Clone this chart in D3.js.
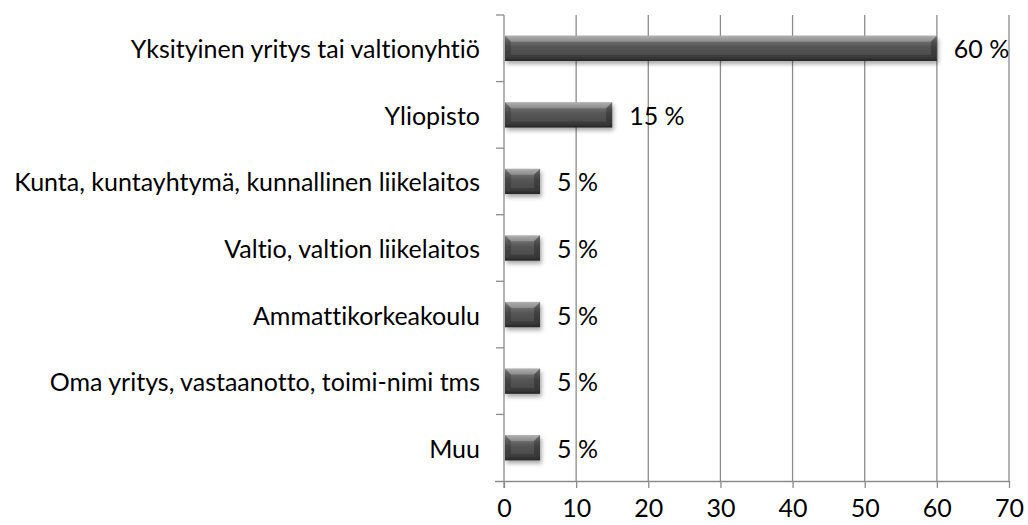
<!DOCTYPE html>
<html>
<head>
<meta charset="utf-8">
<script src="https://cdn.jsdelivr.net/npm/d3@7"></script>
<style>
  html, body { margin: 0; padding: 0; background: #fff; }
  #chart { width: 1028px; height: 525px; }
  text { font-variant-ligatures: none; }
</style>
</head>
<body>
<div id="chart"></div>
<script>
const categories = [
    "Yksityinen yritys tai valtionyhtiö",
    "Yliopisto",
    "Kunta, kuntayhtymä, kunnallinen liikelaitos",
    "Valtio, valtion liikelaitos",
    "Ammattikorkeakoulu",
    "Oma yritys, vastaanotto, toimi-nimi tms",
    "Muu"
];
const values = [60, 15, 5, 5, 5, 5, 5];
const xTicks = [0, 10, 20, 30, 40, 50, 60, 70];

const width = 1028, height = 525;
const margin = {top: 15, right: 19, bottom: 44, left: 504};
const fontFamily = "Lato, 'Open Sans', sans-serif";
const fontSize = 25;

const svg = d3.select('#chart')
    .append('svg')
    .attr('width', width)
    .attr('height', height)
    .style('font-family', fontFamily);

const x = d3.scaleLinear()
    .domain([0, 70])
    .range([margin.left, width - margin.right]);

const y = d3.scaleBand()
    .domain(categories)
    .range([margin.top, height - margin.bottom])
    .paddingInner(0.62)
    .paddingOuter(0.31);

const defs = svg.append('defs');

const grad = defs.append('linearGradient')
    .attr('id', 'barGrad')
    .attr('x1', 0).attr('y1', 0).attr('x2', 0).attr('y2', 1);
grad.append('stop').attr('offset', '0%').attr('stop-color', '#9a9a9a');
grad.append('stop').attr('offset', '22%').attr('stop-color', '#6e6e6e');
grad.append('stop').attr('offset', '45%').attr('stop-color', '#555');
grad.append('stop').attr('offset', '85%').attr('stop-color', '#4a4a4a');
grad.append('stop').attr('offset', '100%').attr('stop-color', '#2e2e2e');

const shadow = defs.append('filter')
    .attr('id', 'shadow')
    .attr('x', '-10%').attr('y', '-30%')
    .attr('width', '130%').attr('height', '180%');
shadow.append('feDropShadow')
    .attr('dx', 1.5).attr('dy', 3)
    .attr('stdDeviation', 2)
    .attr('flood-color', '#000')
    .attr('flood-opacity', 0.35);

const gridColor = '#8c8c8c';

// vertical grid lines
svg.append('g')
    .selectAll('line')
    .data(xTicks.slice(1))
    .join('line')
    .attr('x1', d => x(d)).attr('x2', d => x(d))
    .attr('y1', margin.top)
    .attr('y2', height - margin.bottom)
    .attr('stroke', gridColor)
    .attr('stroke-width', 1.3);

// x axis
const xAxis = svg.append('g')
    .attr('transform', `translate(0,${height - margin.bottom})`)
    .call(d3.axisBottom(x).tickValues(xTicks).tickSize(7).tickSizeOuter(0).tickPadding(11));
xAxis.select('.domain')
    .attr('d', `M${x(0) - 9},0.5H${x(70)}`)
    .attr('stroke', gridColor).attr('stroke-width', 1.3);
xAxis.selectAll('.tick line').attr('stroke', gridColor).attr('stroke-width', 1.3);
xAxis.selectAll('.tick text')
    .attr('fill', '#000')
    .style('font-family', fontFamily)
    .style('font-size', fontSize + 'px');

// y axis: line plus category separator ticks
const yAxis = svg.append('g');
yAxis.append('line')
    .attr('x1', x(0)).attr('x2', x(0))
    .attr('y1', margin.top).attr('y2', height - margin.bottom + 7)
    .attr('stroke', gridColor).attr('stroke-width', 1.3);
const step = y.step();
yAxis.selectAll('.sep')
    .data(d3.range(categories.length))
    .join('line')
    .attr('class', 'sep')
    .attr('x1', x(0) - 8).attr('x2', x(0))
    .attr('y1', i => margin.top + i * step)
    .attr('y2', i => margin.top + i * step)
    .attr('stroke', gridColor).attr('stroke-width', 1.3);

yAxis.selectAll('text')
    .data(categories)
    .join('text')
    .attr('x', x(0) - 24)
    .attr('y', d => y(d) + y.bandwidth() / 2)
    .attr('text-anchor', 'end')
    .attr('dominant-baseline', 'central')
    .style('font-size', fontSize + 'px')
    .attr('fill', '#000')
    .text(d => d);

// bars
const bars = svg.append('g')
    .selectAll('g')
    .data(categories.map((c, i) => ({name: c, value: values[i]})))
    .join('g')
    .attr('transform', d => `translate(${x(0) + 1},${y(d.name)})`);

const bh = y.bandwidth();
const bev = 6;

bars.append('rect')
    .attr('width', d => x(d.value) - x(0) - 1)
    .attr('height', bh)
    .attr('fill', 'url(#barGrad)')
    .attr('filter', 'url(#shadow)');

// bevel: top facet lighter, side facets darker
bars.append('path')
    .attr('d', d => {
        const w = x(d.value) - x(0) - 1;
        return `M0,0H${w}L${w - bev},${bev}H${bev}Z`;
    })
    .attr('fill', '#fff')
    .attr('opacity', 0.22);

bars.append('path')
    .attr('d', d => `M0,0L${bev},${bev}V${bh - bev}L0,${bh}Z`)
    .attr('fill', '#000')
    .attr('opacity', 0.18);

bars.append('path')
    .attr('d', d => {
        const w = x(d.value) - x(0) - 1;
        return `M${w},0L${w - bev},${bev}V${bh - bev}L${w},${bh}Z`;
    })
    .attr('fill', '#000')
    .attr('opacity', 0.25);

bars.append('path')
    .attr('d', d => {
        const w = x(d.value) - x(0) - 1;
        return `M0,${bh}L${bev},${bh - bev}H${w - bev}L${w},${bh}Z`;
    })
    .attr('fill', '#000')
    .attr('opacity', 0.2);

// value labels
bars.append('text')
    .attr('x', d => x(d.value) - x(0) + 16)
    .attr('y', bh / 2)
    .attr('dominant-baseline', 'central')
    .style('font-size', fontSize + 'px')
    .attr('fill', '#000')
    .text(d => d.value + ' %');
</script>
</body>
</html>
